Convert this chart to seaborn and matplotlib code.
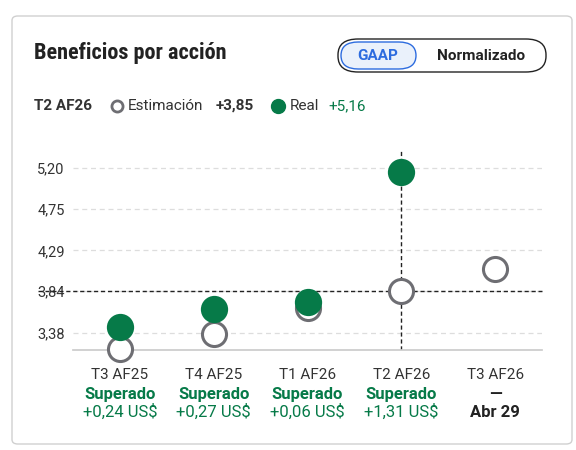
import matplotlib.pyplot as plt
import seaborn as sns
import pandas as pd
from matplotlib.patches import FancyBboxPatch

quarters = ["T3 AF25", "T4 AF25", "T1 AF26", "T2 AF26", "T3 AF26"]
estimates = [3.20, 3.37, 3.66, 3.84, 4.09]
actuals = [3.44, 3.64, 3.72, 5.16, None]
status = ["Superado", "Superado", "Superado", "Superado", "—"]
surprise = ["+0,24 US$", "+0,27 US$", "+0,06 US$", "+1,31 US$", "Abr 29"]
yticks = [3.38, 3.84, 4.29, 4.75, 5.20]

green = "#067a48"
grey = "#6e6e73"

df = pd.DataFrame({"q": quarters, "est": estimates, "act": actuals})

sns.set_theme(style="white")
plt.rcParams["font.family"] = ["Roboto", "DejaVu Sans"]

fig = plt.figure(figsize=(5.76, 4.5), dpi=100)
fig.patches.append(FancyBboxPatch((12 / 576, 6 / 450), 560 / 576, 428 / 450,
                                  boxstyle="round,pad=0,rounding_size=0.01",
                                  transform=fig.transFigure, fc="white", ec="#d0d0d0", lw=1,
                                  zorder=-5))
fig.text(34 / 576, 1 - 53 / 450, "Beneficios por acción", fontsize=16, fontweight="bold",
         va="center", color="#222", family=["Roboto Condensed", "Roboto", "DejaVu Sans"])
# toggle
fig.patches.append(FancyBboxPatch((338 / 576, 1 - 72 / 450), 208 / 576, 33 / 450,
                                  boxstyle="round,pad=0,rounding_size=0.035",
                                  transform=fig.transFigure, fc="white", ec="#222", lw=1,
                                  zorder=-4))
fig.patches.append(FancyBboxPatch((341 / 576, 1 - 69 / 450), 75 / 576, 27 / 450,
                                  boxstyle="round,pad=0,rounding_size=0.03",
                                  transform=fig.transFigure, fc="#eaf1fb", ec="#2d6cdf", lw=1,
                                  zorder=-3))
fig.text(378 / 576, 1 - 56 / 450, "GAAP", fontsize=11, fontweight="bold", color="#2d6cdf",
         ha="center", va="center")
fig.text(481 / 576, 1 - 56 / 450, "Normalizado", fontsize=11, fontweight="bold", color="#222",
         ha="center", va="center")
# legend line
ly = 1 - 106 / 450
fig.text(34 / 576, ly, "T2 AF26", fontsize=11, fontweight="bold", color="#333", va="center")
fig.lines.append(plt.Line2D([117 / 576], [ly], transform=fig.transFigure, marker="o", ms=8,
                            mfc="white", mec=grey, mew=2))
fig.text(128 / 576, ly, "Estimación", fontsize=11, color="#333", va="center")
fig.text(216 / 576, ly, "+3,85", fontsize=11, fontweight="bold", color="#333", va="center")
fig.lines.append(plt.Line2D([278 / 576], [ly], transform=fig.transFigure, marker="o", ms=10,
                            mfc=green, mec=green))
fig.text(290 / 576, ly, "Real", fontsize=11, color="#333", va="center")
fig.text(328 / 576, ly, "+5,16", fontsize=11, color=green, va="center")

ax = fig.add_axes([73 / 576, 0.222, 469 / 576, 0.445])
ax.patch.set_alpha(0)
ax.set_xlim(-0.5, 4.5)
ax.set_ylim(3.19, 5.40)
for t in yticks:
    ax.axhline(t, color="#dddddd", ls=(0, (4, 3)), lw=0.9, zorder=0)
ax.axhline(3.84, color="#222", ls=(0, (3, 2)), lw=1, zorder=1, xmin=-0.075, clip_on=False)
ax.axvline(3, color="#222", ls=(0, (3, 2)), lw=1, zorder=1)

xs = list(range(len(quarters)))
sns.scatterplot(x=xs, y=df["est"], ax=ax, s=300, facecolor="white", edgecolor=grey,
                linewidth=2.2, zorder=3, legend=False, clip_on=False)
sns.scatterplot(x=xs[:4], y=df["act"][:4], ax=ax, s=330, color=green, edgecolor=green,
                zorder=4, legend=False, clip_on=False)

for s in ["top", "right", "left"]:
    ax.spines[s].set_visible(False)
ax.spines["bottom"].set_color("#cccccc")
ax.set_yticks(yticks)
ax.set_yticklabels([f"{t:.2f}".replace(".", ",") for t in yticks], fontsize=10.5, color="#333")
ax.tick_params(axis="y", length=0, pad=6)
ax.set_xticks(xs)
ax.set_xticklabels([])
ax.tick_params(axis="x", length=0)
ax.set_xlabel("")
ax.set_ylabel("")

for i, q in enumerate(quarters):
    tr = ax.get_xaxis_transform()
    ax.text(i, -0.125, q, transform=tr, ha="center", va="center", fontsize=11, color="#333")
    ax.text(i, -0.22, status[i], transform=tr, ha="center", va="center",
            fontsize=12, fontweight="bold", color=green if i < 4 else "#222")
    ax.text(i, -0.31, surprise[i], transform=tr, ha="center", va="center",
            fontsize=12, color=green if i < 4 else "#222", fontweight="normal" if i < 4 else "bold")

fig.savefig("out.png", dpi=100)
